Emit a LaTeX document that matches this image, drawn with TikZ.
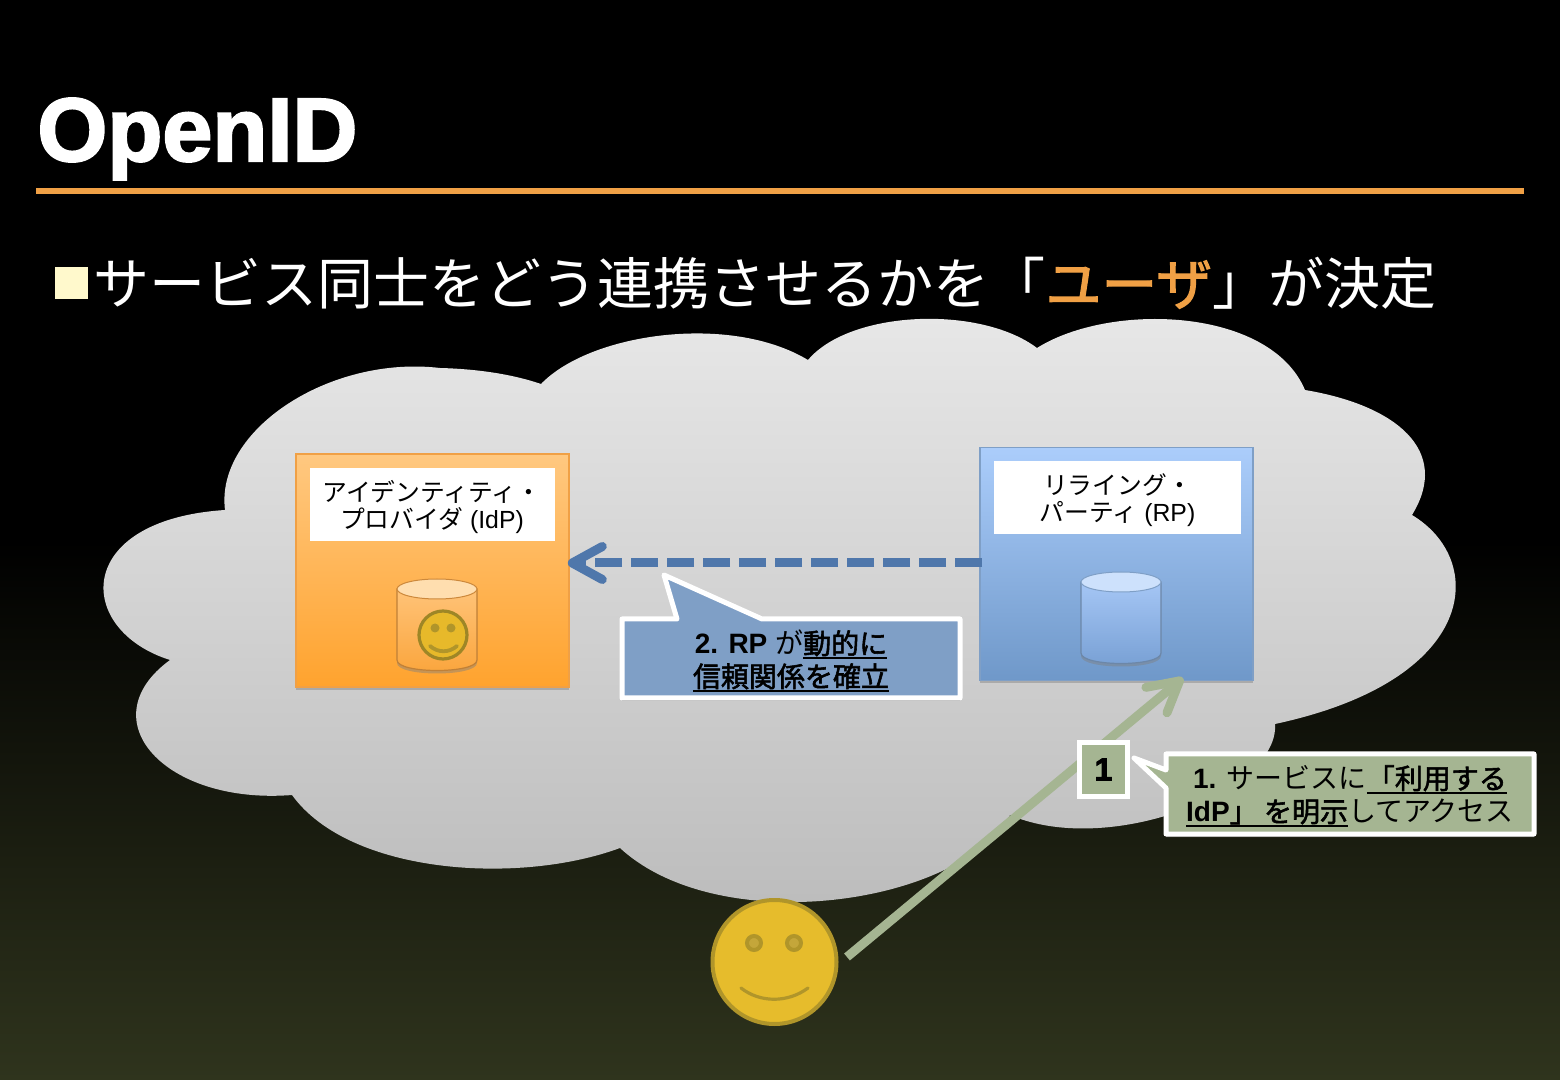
\documentclass[tikz,border=0pt]{standalone}
\usepackage{fontspec}
\setmainfont{Liberation Sans}
\newfontfamily\jp{Noto Sans CJK JP}
\newfontfamily\jpb[FakeBold=2]{Noto Sans CJK JP}
\newfontfamily\titlef[BoldFeatures={FakeBold=2.4}]{Liberation Sans}
\usetikzlibrary{arrows.meta,shadows,calc}
\definecolor{rulec}{HTML}{F0A045}
\definecolor{bulletc}{HTML}{FFF9CC}
\definecolor{bluec}{HTML}{4F77AB}
\definecolor{bluefill}{HTML}{7F9FC6}
\definecolor{greenc}{HTML}{A5B592}
\definecolor{faceC}{HTML}{E6BC2C}
\definecolor{faceD}{HTML}{B0952A}
\definecolor{faceE}{HTML}{C4A63A}
\tikzset{
  softshadow/.style={drop shadow={opacity=.45,shadow xshift=0pt,shadow yshift=-1.5pt}},
  orgbox/.style={draw=#1,line width=.8pt,minimum width=136.5pt,minimum height=116.5pt,inner sep=0pt,softshadow},
  labeltext/.style={align=center,inner sep=0pt,font=\fontsize{12.4}{13.5}\selectfont},
  calltext/.style={align=center,inner sep=0pt,font=\fontsize{14}{16.5}\selectfont},
  callshape/.style={draw=white,line width=2.5pt,line join=round,softshadow},
  dbody/.style={draw=#1,line width=.6pt,softshadow},
  barb/.style={-{Straight Barb[length=15pt,width=16.5pt,round,line width=4.5pt]}},
}
\newcommand{\ul}[1]{\setbox0=\hbox{#1}\rlap{\raisebox{-2.4pt}{\rule{\wd0}{1pt}}}\box0}
\begin{document}
\begin{tikzpicture}[x=0.5pt,y=-0.5pt]
\useasboundingbox (0,0) rectangle (1560,1080);
\fill[black] (0,0) rectangle (1560,545);
\shade[top color=black,bottom color={rgb,255:red,47;green,52;blue,29}] (0,540) rectangle (1560,1080);
\node[anchor=base west,inner sep=0pt,text=white,font=\fontsize{45}{50}\selectfont\titlef\bfseries] (title) at (37,161) {OpenID};
\fill[rulec] (36,188) rectangle (1524,194);
\fill[bulletc] (55,267) rectangle (88,299);
\node[anchor=base west,inner sep=0pt,text=white,font=\fontsize{28}{32}\selectfont\jp] (subtitle) at (93,305)
  {サービス同士をどう連携させるかを「\textcolor{rulec}{\jpb ユーザ}」が決定};
% cloud
\path[top color=black!9,bottom color=black!27] (225,510)
  .. controls (215,430) and (330,355) .. (440,368)
  .. controls (480,369) and (515,375) .. (541,384)
  .. controls (590,333) and (730,313) .. (808,360)
  .. controls (850,310) and (980,305) .. (1037,348)
  .. controls (1110,302) and (1270,307) .. (1305,390)
  .. controls (1395,405) and (1452,450) .. (1412,515)
  .. controls (1487,560) and (1480,680) .. (1275,724)
  .. controls (1280,790) and (1110,858) .. (1010,815)
  .. controls (960,905) and (720,940) .. (620,848)
  .. controls (520,885) and (350,875) .. (292,795)
  .. controls (165,805) and (88,720) .. (170,660)
  .. controls (75,630) and (72,520) .. (225,510) -- cycle;
% IdP
\node[orgbox={rulec},top color={rgb,255:red,255;green,200;blue,128},bottom color={rgb,255:red,255;green,163;blue,46}] (idp) at (432.5,570.5) {};
\fill[white] (310,468) rectangle (555,541);
\node[labeltext] (idplabel) at (432,507) {{\jp アイデンティティ・}\\{\jp プロバイダ} (IdP)};
\path[dbody={rulec!80!black},top color={rgb,255:red,255;green,195;blue,120},bottom color={rgb,255:red,250;green,165;blue,60}]
  (397,589) -- (397,660) .. controls (397,674) and (477,674) .. (477,660) -- (477,589) -- cycle;
\path[draw=rulec!85!black,line width=.5pt,fill={rgb,255:red,255;green,222;blue,175}] (437,589) ellipse [x radius=40,y radius=10];
\draw[line width=1.6pt,draw=faceD!90!black,fill=faceC!95!orange] (443,635) circle [radius=24];
\fill[faceD] (435,628) circle [radius=4.5] (451,628) circle [radius=4.5];
\draw[faceD,line width=1.9pt,line cap=round] (430,646) .. controls (438,653) and (449,653) .. (457,646);
% RP
\node[orgbox={bluefill},top color={rgb,255:red,171;green,205;blue,251},bottom color={rgb,255:red,111;green,152;blue,201}] (rp) at (1116.5,564) {};
\fill[white] (994,461) rectangle (1241,534);
\node[labeltext] (rplabel) at (1117.5,500) {{\jp リライング・}\\{\jp パーティ} (RP)};
\path[dbody={bluefill!85!black},top color={rgb,255:red,165;green,198;blue,245},bottom color={rgb,255:red,120;green,160;blue,212}]
  (1081,582) -- (1081,653) .. controls (1081,667) and (1161,667) .. (1161,653) -- (1161,582) -- cycle;
\path[draw=bluefill,line width=.5pt,fill={rgb,255:red,205;green,225;blue,252}] (1121,582) ellipse [x radius=40,y radius=10];
% dashed connector
\draw[bluec,line width=4.5pt,dash pattern=on 13.5pt off 4.5pt,barb]
  ($(rp.west)+(3,-1)$) -- ($(idp.east |- rp.west)+(-2,-1)$);
% callout 2
\path[callshape,fill=bluefill] (622,619) -- (677,619) -- (664,575) -- (762,619) -- (960,619) -- (960,698) -- (622,698) -- cycle;
\node[calltext] (note2) at (791,661) {{\bfseries 2. RP} {\jp が}\ul{\jpb 動的に}\\\ul{\jpb 信頼関係を確立}};
% user
\node[circle,draw=faceD,line width=2pt,fill=faceC,minimum size=62pt,inner sep=0pt] (user) at (774.5,962) {};
\draw[draw=faceD,fill=faceE,line width=2pt] (754,943) circle [radius=7] (794,943) circle [radius=7];
\draw[faceD,line width=1.6pt,line cap=round] (741,988) .. controls (760,1003) and (788,1003) .. (808,988);
% green connector
\coordinate (greenstart) at (847,957);
\coordinate (greenend) at (1183,678);
\draw[greenc,line width=4.5pt,barb] (greenstart) -- (greenend);
% badge 1
\node[draw=white,line width=2.5pt,fill=greenc,minimum width=24pt,minimum height=26.5pt,inner sep=0pt,softshadow,font=\fontsize{16}{18}\selectfont\titlef\bfseries] (badge) at (1103.5,769.5) {1};
% callout 1
\path[callshape,fill=greenc] (1166,754) -- (1534,754) -- (1534,834) -- (1166,834) -- (1166,788) -- (1134,758) -- (1166,770) -- cycle;
\node[calltext] (note1) at (1350,796) {{\bfseries 1.} {\jp サービスに}\ul{\jpb 「利用する}\\\ul{{\bfseries IdP}{\jpb 」 を明示}}{\jp してアクセス}};
\end{tikzpicture}
\end{document}
